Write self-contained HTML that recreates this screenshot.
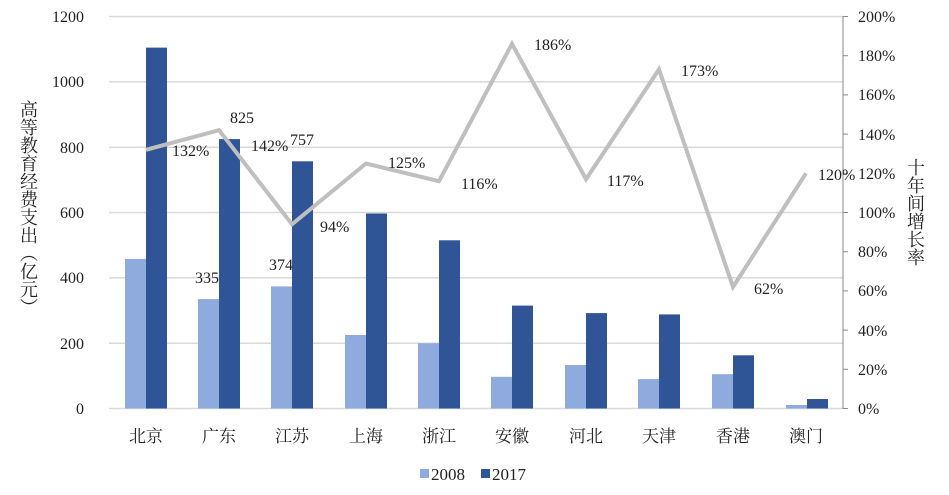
<!DOCTYPE html>
<html><head><meta charset="utf-8"><style>body{margin:0;background:#fff}svg{display:block}text{font-family:"Liberation Serif","Noto Serif CJK SC",serif;fill:#222}</style></head><body>
<svg width="949" height="495" viewBox="0 0 949 495" xmlns="http://www.w3.org/2000/svg">
<g stroke="#d9d9d9" stroke-width="1.5">
<line x1="109" x2="843" y1="16.5" y2="16.5"/><line x1="109" x2="843" y1="81.8" y2="81.8"/><line x1="109" x2="843" y1="147.2" y2="147.2"/><line x1="109" x2="843" y1="212.5" y2="212.5"/><line x1="109" x2="843" y1="277.8" y2="277.8"/><line x1="109" x2="843" y1="343.2" y2="343.2"/><line x1="109" x2="843" y1="408.5" y2="408.5"/>
</g>
<g font-size="16" text-anchor="end">
<text x="84" y="22">1200</text><text x="84" y="87">1000</text><text x="84" y="153">800</text><text x="84" y="218">600</text><text x="84" y="283">400</text><text x="84" y="349">200</text><text x="84" y="414">0</text>
</g>
<g stroke="#888" stroke-width="1"><line x1="843" x2="843" y1="16" y2="409"/>
<line x1="843" x2="848" y1="16.5" y2="16.5"/><line x1="843" x2="848" y1="55.7" y2="55.7"/><line x1="843" x2="848" y1="94.9" y2="94.9"/><line x1="843" x2="848" y1="134.1" y2="134.1"/><line x1="843" x2="848" y1="173.3" y2="173.3"/><line x1="843" x2="848" y1="212.5" y2="212.5"/><line x1="843" x2="848" y1="251.7" y2="251.7"/><line x1="843" x2="848" y1="290.9" y2="290.9"/><line x1="843" x2="848" y1="330.1" y2="330.1"/><line x1="843" x2="848" y1="369.3" y2="369.3"/><line x1="843" x2="848" y1="408.5" y2="408.5"/></g>
<g font-size="16">
<text x="858" y="22">200%</text><text x="858" y="61">180%</text><text x="858" y="100">160%</text><text x="858" y="140">140%</text><text x="858" y="179">120%</text><text x="858" y="218">100%</text><text x="858" y="257">80%</text><text x="858" y="296">60%</text><text x="858" y="336">40%</text><text x="858" y="375">20%</text><text x="858" y="414">0%</text>
</g>
<g>
<rect x="125" y="258.9" width="21" height="149.6" fill="#8faadc"/><rect x="146" y="47.6" width="21" height="360.9" fill="#2f5597"/>
<rect x="198" y="299.1" width="21" height="109.4" fill="#8faadc"/><rect x="219" y="139.1" width="21" height="269.4" fill="#2f5597"/>
<rect x="271" y="286.4" width="21" height="122.1" fill="#8faadc"/><rect x="292" y="161.3" width="21" height="247.2" fill="#2f5597"/>
<rect x="345" y="335" width="21" height="73.5" fill="#8faadc"/><rect x="366" y="213.5" width="21" height="195" fill="#2f5597"/>
<rect x="418" y="343.2" width="21" height="65.3" fill="#8faadc"/><rect x="439" y="240.3" width="21" height="168.2" fill="#2f5597"/>
<rect x="491" y="376.8" width="21" height="31.7" fill="#8faadc"/><rect x="512" y="305.6" width="21" height="102.9" fill="#2f5597"/>
<rect x="565" y="365" width="21" height="43.5" fill="#8faadc"/><rect x="586" y="313.1" width="21" height="95.4" fill="#2f5597"/>
<rect x="638" y="379.1" width="21" height="29.4" fill="#8faadc"/><rect x="659" y="314.4" width="21" height="94.1" fill="#2f5597"/>
<rect x="712" y="374.2" width="21" height="34.3" fill="#8faadc"/><rect x="733" y="355.3" width="21" height="53.2" fill="#2f5597"/>
<rect x="786" y="405" width="21" height="3.5" fill="#8faadc"/><rect x="807" y="399" width="21" height="9.5" fill="#2f5597"/>
</g>
<polyline fill="none" stroke="#bfbfbf" stroke-width="4" points="146,149.8 219,130.2 292,224.3 366,163.5 439,181.2 512,43.9 586,179.2 659,69.4 733,287 806,173.3"/>
<g font-size="16">
<text x="172" y="156">132%</text><text x="251" y="151">142%</text><text x="320" y="232">94%</text><text x="388" y="168">125%</text><text x="461" y="189">116%</text><text x="534" y="50">186%</text><text x="607" y="186">117%</text><text x="681" y="76">173%</text><text x="754" y="294">62%</text><text x="818" y="180">120%</text>
<text x="195" y="283">335</text><text x="230" y="123">825</text><text x="269" y="270">374</text><text x="290" y="145">757</text>
</g>
<g font-size="17" text-anchor="middle">
<text x="146" y="442">北京</text><text x="219" y="442">广东</text><text x="292" y="442">江苏</text><text x="366" y="442">上海</text><text x="439" y="442">浙江</text><text x="512" y="442">安徽</text><text x="586" y="442">河北</text><text x="659" y="442">天津</text><text x="733" y="442">香港</text><text x="806" y="442">澳门</text>
</g>
<text font-size="18" x="28" y="100" style="writing-mode:vertical-rl;text-orientation:upright">高等教育经费支出（亿元）</text>
<text font-size="18" x="915" y="158" style="writing-mode:vertical-rl;text-orientation:upright">十年间增长率</text>
<rect x="420" y="469" width="9" height="9" fill="#8faadc"/><text x="431" y="480" font-size="17">2008</text>
<rect x="481" y="469" width="9" height="9" fill="#2f5597"/><text x="492" y="480" font-size="17">2017</text>
</svg>
</body></html>
